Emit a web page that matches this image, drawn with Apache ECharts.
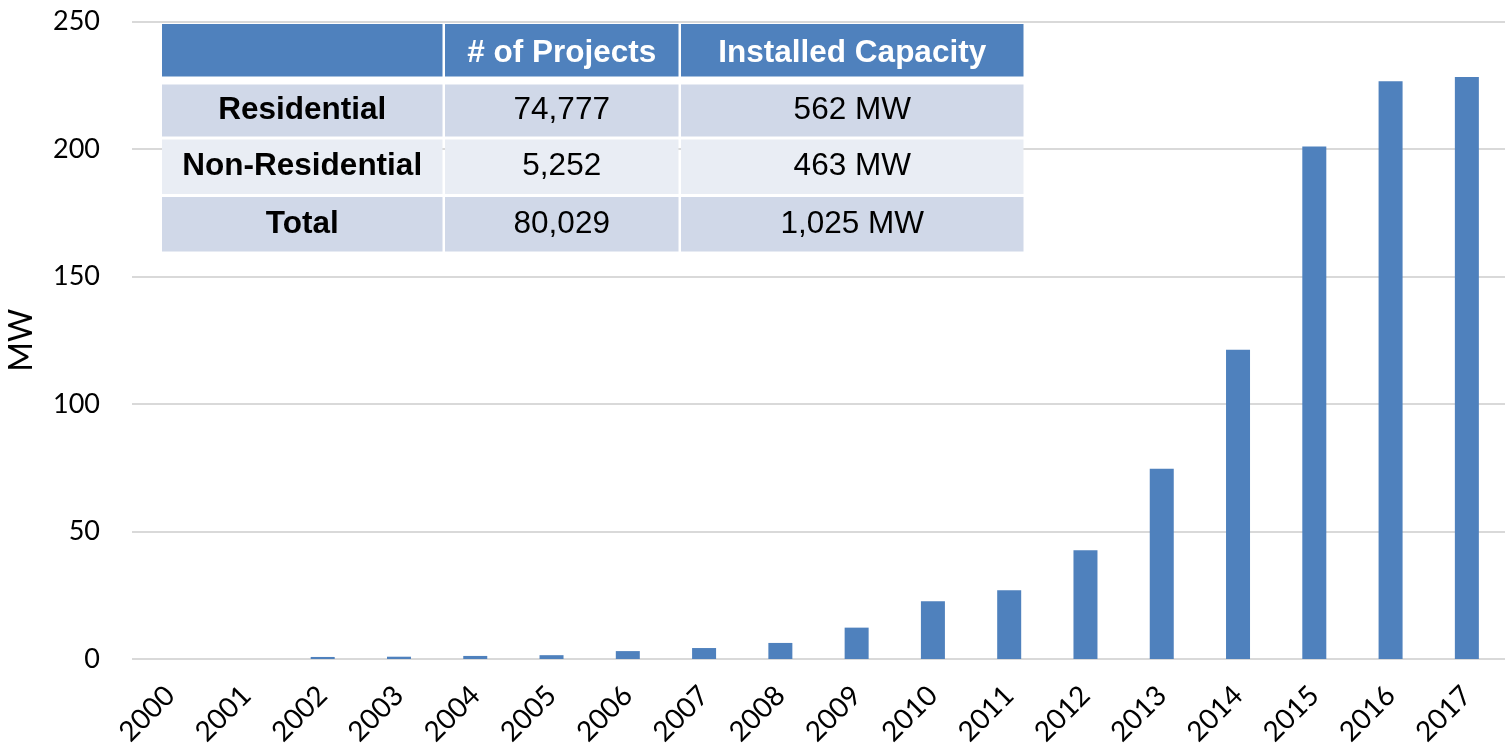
<!DOCTYPE html>
<html>
<head>
<meta charset="utf-8">
<script src="https://cdn.jsdelivr.net/npm/echarts@6/dist/echarts.min.js"></script>
<style>html,body{margin:0;padding:0;background:#fff}#c{width:1505px;height:748px}</style>
</head>
<body>
<div id="c"></div>
<script>
var years = ['2000','2001','2002','2003','2004','2005','2006','2007','2008','2009','2010','2011','2012','2013','2014','2015','2016','2017'];
var capacity = [0, 0, 0.8, 0.9, 1.2, 1.5, 3.1, 4.3, 6.3, 12.3, 22.6, 27, 42.6, 74.6, 121.3, 201, 226.6, 228.2];
var yTicks = [0, 50, 100, 150, 200, 250];
var tableHeader = ['', '# of Projects', 'Installed Capacity'];
var tableRowLabels = ['Residential', 'Non-Residential', 'Total'];
var tableProjects = ['74,777', '5,252', '80,029'];
var tableCapacity = ['562 MW', '463 MW', '1,025 MW'];

var chart = echarts.init(document.getElementById('c'));

// table layout (styling only)
var colX = [162, 445, 681];
var colW = [280.5, 233.5, 342.5];
var rowY = [24, 84.5, 139.5, 197];
var rowH = [52.5, 52, 54.5, 54.5];
var rowFill = ['#4F81BD', '#D0D8E8', '#E9EDF4', '#D0D8E8'];
var graphics = [];
function cell(r, c, txt, bold, color) {
  graphics.push({
    type: 'rect', left: colX[c], top: rowY[r], z: 100,
    shape: {width: colW[c], height: rowH[r]},
    style: {fill: rowFill[r]}
  });
  graphics.push({
    type: 'text', z: 101,
    x: colX[c] + colW[c] / 2, y: rowY[r] + rowH[r] / 2 + (r === 0 ? 3 : 0),
    style: {text: txt, fill: color, font: (bold ? 'bold ' : '') + '31.5px "Liberation Sans", Arial, sans-serif',
      textAlign: 'center', textVerticalAlign: 'middle'}
  });
}
for (var c = 0; c < 3; c++) cell(0, c, tableHeader[c], true, '#fff');
for (var r = 0; r < 3; r++) {
  cell(r + 1, 0, tableRowLabels[r], true, '#000');
  cell(r + 1, 1, tableProjects[r], false, '#000');
  cell(r + 1, 2, tableCapacity[r], false, '#000');
}

chart.setOption({
  animation: false,
  grid: {left: 132, right: 0, top: 21.5, bottom: 89, containLabel: false, outerBoundsMode: 'none'},
  xAxis: {
    type: 'category', data: years,
    axisLine: {show: false}, axisTick: {show: false},
    axisLabel: {rotate: 45, fontSize: 28, color: '#000', fontFamily: 'Lato, "Open Sans", sans-serif', margin: 32, interval: 0}
  },
  yAxis: {
    type: 'value', min: 0, max: 250, interval: 50,
    name: 'MW', nameLocation: 'middle', nameGap: 94,
    nameTextStyle: {fontSize: 32, color: '#000', fontFamily: 'Lato, "Open Sans", sans-serif'},
    axisLine: {show: false}, axisTick: {show: false},
    axisLabel: {fontSize: 27, color: '#000', fontFamily: 'Lato, "Open Sans", sans-serif', margin: 32,
      formatter: function (v) { return yTicks.indexOf(v) >= 0 ? String(v) : ''; }},
    splitLine: {lineStyle: {color: '#D9D9D9', width: 2}}
  },
  series: [{
    type: 'bar', data: capacity, barWidth: 24,
    itemStyle: {color: '#4F81BD'}
  }],
  graphic: graphics
});
</script>
</body>
</html>
